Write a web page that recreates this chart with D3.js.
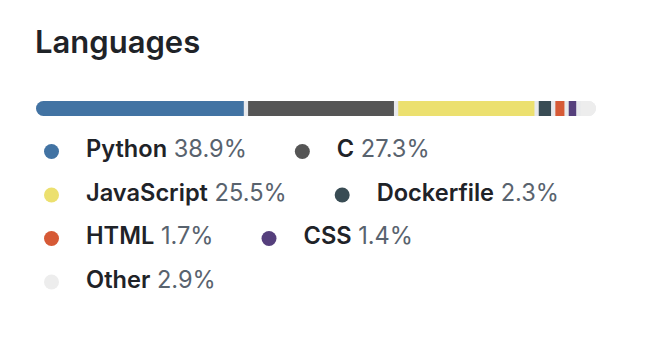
<!DOCTYPE html>
<html>
<head>
<meta charset="utf-8">
<script src="https://cdn.jsdelivr.net/npm/d3@7"></script>
<style>
  body { margin: 0; background: #fff; }
  svg { display: block; font-family: Inter, "Noto Sans", sans-serif; }
</style>
</head>
<body>
<div id="chart"></div>
<script>
var svgWidth = 646;
var svgHeight = 364;

var languages = ["Python", "C", "JavaScript", "Dockerfile", "HTML", "CSS", "Other"];
var percents = [38.9, 27.3, 25.5, 2.3, 1.7, 1.4, 2.9];
var colors = ["#4273a3", "#555555", "#ece06f", "#394c54", "#d65a36", "#553f7c", "#ededed"];

var barLeft = 36, barRight = 596, barTop = 101, barHeight = 15, gap = 4.3;
var trackColor = "#e8e9ec";

var svg = d3.select("#chart").append("svg").attr("width", svgWidth).attr("height", svgHeight);

svg.append("text").attr("x", 35).attr("y", 53)
    .attr("font-size", "31px").attr("font-weight", 600).attr("fill", "#1f2328")
    .text("Languages");

// progress bar
var x = d3.scaleLinear().domain([0, d3.sum(percents)])
    .range([0, barRight - barLeft - gap * (languages.length - 1)]);

var starts = [];
var acc = 0;
percents.forEach(function(p, i){
    starts.push(barLeft + x(acc) + i * gap);
    acc += p;
});

svg.append("clipPath").attr("id", "barClip")
    .append("rect").attr("x", barLeft).attr("y", barTop)
    .attr("width", barRight - barLeft).attr("height", barHeight)
    .attr("rx", barHeight / 2);

var barGroup = svg.append("g").attr("clip-path", "url(#barClip)");

barGroup.append("rect").attr("x", barLeft).attr("y", barTop)
    .attr("width", barRight - barLeft).attr("height", barHeight).attr("fill", trackColor);

barGroup.selectAll("rect.seg").data(percents).enter().append("rect")
    .attr("class", "seg")
    .attr("x", (d, i) => starts[i])
    .attr("y", barTop)
    .attr("width", (d, i) => i === percents.length - 1 ? barRight - starts[i] : x(d))
    .attr("height", barHeight)
    .attr("fill", (d, i) => colors[i]);

// legend, laid out like wrapping inline items
var legendLeft = 44, wrapLimit = 580, itemGap = 48, rowHeight = 43.5, firstRowY = 151.5;
var dotR = 7.5, textOffset = 42;

var legend = svg.append("g");
var cx = legendLeft, row = 0;

languages.forEach(function(name, i){
    var item = legend.append("g");
    item.append("circle").attr("cx", dotR).attr("cy", 0).attr("r", dotR).attr("fill", colors[i]);
    var t = item.append("text").attr("x", textOffset).attr("y", 5.5).attr("font-size", "23.6px");
    t.append("tspan").attr("font-weight", 600).attr("fill", "#1f2328").text(name);
    t.append("tspan").attr("fill", "#59636e").text(" " + percents[i].toFixed(1) + "%");
    var w = textOffset + t.node().getComputedTextLength();
    if (cx > legendLeft && cx + w > wrapLimit) {
        row += 1;
        cx = legendLeft;
    }
    item.attr("transform", `translate(${cx},${firstRowY + row * rowHeight})`);
    cx += w + itemGap;
});
</script>
</body>
</html>
